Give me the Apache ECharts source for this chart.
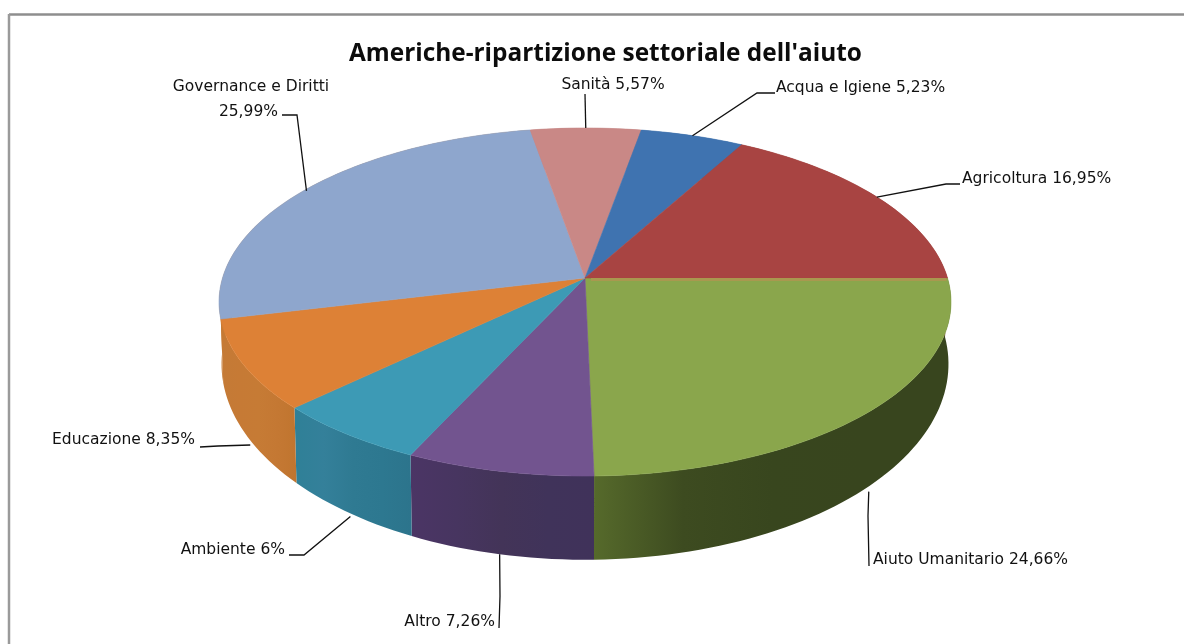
<!DOCTYPE html>
<html><head><meta charset="utf-8">
<style>html,body{margin:0;padding:0;background:#fff}#c{width:1184px;height:644px}</style>
<script src="https://cdn.jsdelivr.net/npm/echarts@6/dist/echarts.min.js"></script>
</head><body><div id="c"></div>
<script>
// Data, clockwise from the right-hand edge of the disc
const categories = ['Aiuto Umanitario','Altro','Ambiente','Educazione','Governance e Diritti','Sanità','Acqua e Igiene','Agricoltura'];
const shares = [24.66, 7.26, 6, 8.35, 25.99, 5.57, 5.23, 16.95];
const chartTitle = "Americhe-ripartizione settoriale dell'aiuto";

// Styling
const topColors = ['#8aa64c','#72548f','#3d9ab5','#dd8136','#8ea6cd','#c98886','#3f73b0','#a84442'];
const wallStops = [
  ['#566a2b','#3d4b20','#38461e','#38451e','#38451e'],
  ['#4b3565','#473560','#433458','#40335a','#40325a'],
  ['#2f8097','#34809a','#2f7a92','#2d7890','#2c748c'],
  ['#c47a36','#c67a35','#c67b35','#c47833','#c0752f'],
  ['#c67a34','#c67a34','#c67a34','#c67a34','#c67a34'],
  ['#b07776','#b07776','#b07776','#b07776','#b07776'],
  ['#366398','#366398','#366398','#366398','#366398'],
  ['#8d3937','#8d3937','#8d3937','#8d3937','#8d3937']
];

// Perspective model of the disc and of its lower rim
const persp = 0.138, cx = 585;
const upper = {y: 278, r: 362.5, k: 170.7};
const lower = {y: 337, r: 360, k: 192};
function project(plane, deg) {
  const a = deg * Math.PI / 180, c = Math.cos(a), s = Math.sin(a), w = 1 - persp * s;
  return [cx + plane.r * c / w, plane.y + plane.k * s / w];
}
const total = shares.reduce((a, b) => a + b, 0);
const startAngles = [];
shares.reduce((acc, v, i) => { startAngles[i] = acc; return acc + v; }, 0);
function arc(plane, d0, d1) {
  const n = Math.max(2, Math.ceil(Math.abs(d1 - d0) / 1.5)), pts = [];
  for (let i = 0; i <= n; i++) pts.push(project(plane, d0 + (d1 - d0) * i / n));
  return pts;
}
function range(i, val) {
  const d0 = startAngles[i] / total * 360;
  return [d0, d0 + val / total * 360];
}

function renderWall(params, api) {
  const i = params.dataIndex, [d0, d1] = range(i, api.value(0));
  const pts = arc(upper, d0, d1).concat(arc(lower, d0, d1).reverse());
  const st = wallStops[i];
  return {type: 'polygon', shape: {points: pts}, style: {
    fill: new echarts.graphic.LinearGradient(0, 0, 1, 0, st.map((c, j) => ({offset: j / (st.length - 1), color: c}))),
    stroke: null
  }};
}
function renderTop(params, api) {
  const i = params.dataIndex, [d0, d1] = range(i, api.value(0));
  const pts = [[cx, upper.y]].concat(arc(upper, d0, d1));
  return {type: 'polygon', shape: {points: pts}, style: {fill: topColors[i], stroke: topColors[i], lineWidth: 0.6}};
}
// Soft seam along the first slice boundary
function renderSeam(params, api) {
  if (params.dataIndex !== 0) return null;
  const p = project(upper, 0);
  return {type: 'line', shape: {x1: cx + 6, y1: upper.y + 1.5, x2: p[0] - 1, y2: p[1] + 1.5}, style: {stroke: '#a9984f', lineWidth: 3}};
}

// Label placement: elbow points of the leader and the text anchor, per category
const labelLayout = [
  {plane: lower, anchorFix: [-1, 6], via: [[868, 516], [869, 566]], x: 873, y: 560, align: 'left'},
  {plane: lower, anchorFix: [0, 0], via: [[500, 596], [499, 628]], x: 495, y: 622, align: 'right'},
  {plane: lower, anchorFix: [2, 4], via: [[304, 555], [289, 555]], x: 285, y: 550, align: 'right'},
  {plane: lower, anchorFix: [4, 10], via: [[218, 446], [200, 447]], x: 195, y: 440, align: 'right'},
  {plane: upper, anchorFix: [3, 0], via: [[297, 115], [282, 115]], x: 278, y: 112, align: 'right', split: true, headX: 251, headY: 87},
  {plane: upper, anchorFix: [0, 0], via: [[585, 94]], x: 613, y: 85, align: 'center'},
  {plane: upper, anchorFix: [0, 0], via: [[757, 93], [775, 93]], x: 776, y: 88, align: 'left'},
  {plane: upper, anchorFix: [0, 0], via: [[946, 184], [960, 184]], x: 962, y: 179, align: 'left'}
];
const labelFont = {fontFamily: 'DejaVu Sans', fontSize: 15.5, fill: '#111'};
function renderLabel(params, api) {
  const i = params.dataIndex, v = api.value(0), [d0, d1] = range(i, v);
  const L = labelLayout[i], p = project(L.plane, (d0 + d1) / 2);
  const start = [p[0] + L.anchorFix[0], p[1] + L.anchorFix[1]];
  const pct = String(v).replace('.', ',') + '%', name = categories[i];
  const children = [{type: 'polyline', shape: {points: [start].concat(L.via)}, style: {fill: null, stroke: '#111', lineWidth: 1.3}}];
  if (L.split) {
    children.push({type: 'text', style: Object.assign({x: L.headX, y: L.headY, text: name, textAlign: 'center', textVerticalAlign: 'middle'}, labelFont)});
    children.push({type: 'text', style: Object.assign({x: L.x, y: L.y, text: pct, textAlign: 'right', textVerticalAlign: 'middle'}, labelFont)});
  } else {
    children.push({type: 'text', style: Object.assign({x: L.x, y: L.y, text: name + ' ' + pct, textAlign: L.align, textVerticalAlign: 'middle'}, labelFont)});
  }
  return {type: 'group', children};
}

const dataRows = shares.map((v, i) => ({name: categories[i], value: [v]}));
const chart = echarts.init(document.getElementById('c'), null, {renderer: 'canvas'});
chart.setOption({
  animation: false,
  backgroundColor: '#fff',
  title: {text: chartTitle, left: 344, top: 37,
    textStyle: {fontFamily: 'Open Sans', fontWeight: 'bold', fontSize: 24.4, color: '#0c0c0c'}},
  tooltip: {show: false},
  graphic: [
    {type: 'line', shape: {x1: 9, y1: 14.5, x2: 1184, y2: 14.5}, style: {stroke: '#8e8e8e', lineWidth: 2.5}, silent: true},
    {type: 'line', shape: {x1: 9, y1: 14, x2: 9, y2: 644}, style: {stroke: '#9a9a9a', lineWidth: 2.5}, silent: true}
  ],
  series: [
    {type: 'custom', coordinateSystem: 'none', z: 2, renderItem: renderWall, data: dataRows, silent: true},
    {type: 'custom', coordinateSystem: 'none', z: 3, renderItem: renderTop, data: dataRows, silent: true},
    {type: 'custom', coordinateSystem: 'none', z: 4, renderItem: renderSeam, data: dataRows, silent: true},
    {type: 'custom', coordinateSystem: 'none', z: 5, renderItem: renderLabel, data: dataRows, silent: true}
  ]
});
</script></body></html>
